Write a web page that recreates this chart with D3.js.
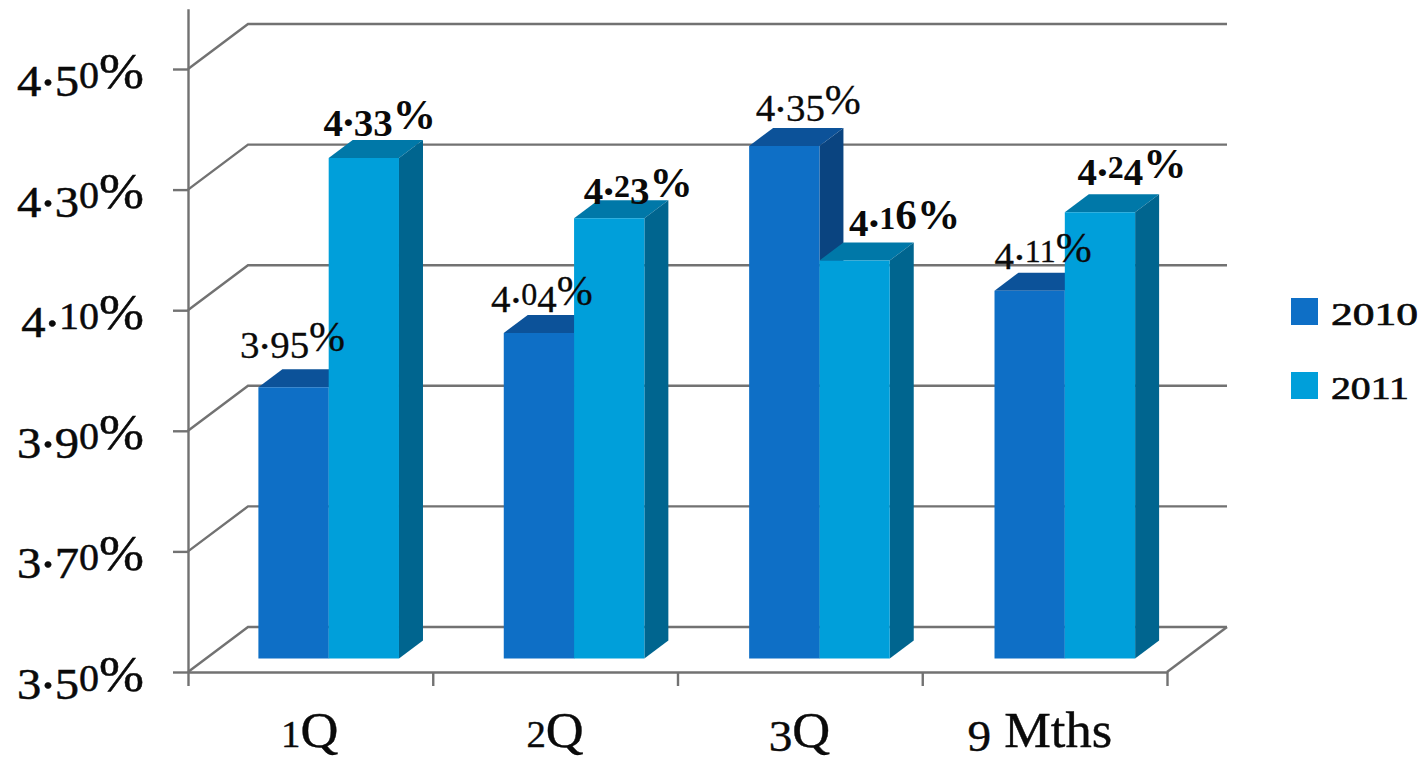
<!DOCTYPE html>
<html>
<head>
<meta charset="utf-8">
<title>Quarterly rates 2010 vs 2011</title>
<script src="https://cdnjs.cloudflare.com/ajax/libs/d3/7.8.5/d3.min.js"></script>
<style>
  html, body { margin: 0; padding: 0; background: #fff; }
  svg { display: block; }
  text { font-family: "Liberation Serif", serif; fill: #0a0a0a; }
</style>
</head>
<body>
<svg id="chart" width="1424" height="761"></svg>
<script>
// Chart data
const categories = ["1Q", "2Q", "3Q", "9 Mths"];
const seriesNames = ["2010", "2011"];
const values2010 = [3.95, 4.04, 4.35, 4.11];
const values2011 = [4.33, 4.23, 4.16, 4.24];
const yTicks = [3.5, 3.7, 3.9, 4.1, 4.3, 4.5];

// Hand placement of the value labels, relative to each bar's front top centre
const labelNudge2010 = [[-1, -36.5], [3, -28], [24, -32], [13.5, -29]];
const labelNudge2011 = [[16, -29.5], [29, -21], [50, -31.5], [32, -34]];
// Horizontal adjustment of the category labels
const categoryNudge = [-1, -1, -2, -7];

const palette = {
  "2010": { front: "#0e6fc6", top: "#0c5299", side: "#0a4480" },
  "2011": { front: "#009fda", top: "#0078a8", side: "#00658f" }
};
const gridColor = "#727272";

// Oblique projection: depth 0 is the front plane, depth 1 the back wall
const wallDx = 60, wallDy = -45;
const project = (x, y, d) => [x + wallDx * d, y + wallDy * d];
const barDepth = [0.3, 0.7];

const svg = d3.select("#chart");
const y = d3.scaleLinear().domain([3.5, 4.6]).range([672, 8.7]);
const xBand = d3.scaleBand().domain(categories).range([188, 1169.5])
  .paddingInner(0.427).paddingOuter(0.2135);
const xSeries = d3.scaleBand().domain(seriesNames).range([0, xBand.bandwidth()]);
const xEdge = d3.scaleLinear().domain([0, categories.length]).range([188, 1167]);
const color = name => palette[name];
const pts = arr => arr.map(p => p.join(",")).join(" ");

// Writes a string with old-style figures: low digits sit at x-height,
// 3 4 5 7 9 hang below the baseline, and the point rides slightly high.
// The whole run is then widened by `stretch`, since the face is a narrow one.
function oldStyle(sel, str, opts = {}) {
  const { hang = 0.17, stretch = 1.05 } = opts;
  const fs = parseFloat(sel.attr("font-size"));
  sel.text(null);
  let shift = 0;
  for (const ch of str) {
    let size = 1, drop = 0;
    if ("012".includes(ch)) { size = 0.74; }
    else if ("34579".includes(ch)) { size = 0.9; drop = hang; }
    else if (ch === ".") { drop = -0.05; }
    sel.append("tspan")
      .attr("font-size", fs * size)
      .attr("dy", (drop - shift) * fs)
      .text(ch);
    shift = drop;
  }
  const w = sel.node().getComputedTextLength();
  sel.attr("textLength", w * stretch).attr("lengthAdjust", "spacingAndGlyphs");
}

// Side wall and back wall gridlines
const grid = svg.append("g").attr("stroke", gridColor).attr("stroke-width", 2.4).attr("fill", "none");
yTicks.forEach(t => {
  const a = [xEdge(0), y(t)];
  const b = project(xEdge(0), y(t), 1);
  const c = project(xEdge(categories.length), y(t), 1);
  grid.append("polyline").attr("points", pts([a, b, c]));
});
// Right edge of the floor
grid.append("line")
  .attr("x1", xEdge(categories.length)).attr("y1", y(3.5))
  .attr("x2", project(xEdge(categories.length), y(3.5), 1)[0])
  .attr("y2", project(xEdge(categories.length), y(3.5), 1)[1]);

// Value axis
const yAxis = svg.append("g").attr("transform", `translate(${xEdge(0)},0)`)
  .call(d3.axisLeft(y).tickValues(yTicks).tickSize(15).tickSizeOuter(0)
    .tickFormat(d => d3.format(".2f")(d) + "%"));
yAxis.selectAll("path, line").attr("stroke", gridColor).attr("stroke-width", 2.4);
yAxis.selectAll("text")
  .attr("font-size", 50).attr("x", -44).attr("y", 18).attr("dy", null)
  .attr("text-anchor", "end")
  .attr("stroke", "#0a0a0a").attr("stroke-width", 0.5)
  .each(function (d) { oldStyle(d3.select(this), d3.format(".2f")(d) + "%", { stretch: 1.08 }); });

// Category axis: ticks on the band boundaries, labels centred in each band
const xTickAxis = svg.append("g").attr("transform", `translate(0,${y(3.5)})`)
  .call(d3.axisBottom(xEdge).tickValues(d3.range(categories.length + 1))
    .tickSize(14).tickSizeOuter(0).tickFormat(""));
xTickAxis.selectAll("path, line").attr("stroke", gridColor).attr("stroke-width", 2.4);

const xLabelAxis = svg.append("g").attr("transform", `translate(0,${y(3.5)})`)
  .call(d3.axisBottom(xBand).tickSize(0));
xLabelAxis.select("path").remove();
xLabelAxis.selectAll("text")
  .attr("font-size", 50).attr("y", 75).attr("dy", null)
  .attr("x", (d, i) => categoryNudge[i])
  .attr("stroke", "#0a0a0a").attr("stroke-width", 0.4)
  .each(function (d) { oldStyle(d3.select(this), d, { hang: 0.07 }); });

// Bars: top and side faces first, the front face over them
const bars = svg.append("g");
categories.forEach((cat, i) => {
  seriesNames.forEach((name, s) => {
    const v = (s === 0 ? values2010 : values2011)[i];
    const x0 = xBand(cat) + xSeries(name);
    const x1 = x0 + xSeries.bandwidth();
    const [dA, dB] = barDepth;
    const c = color(name);
    const g = bars.append("g");
    g.append("polygon").attr("fill", c.top).attr("points", pts([
      project(x0, y(v), dA), project(x1, y(v), dA), project(x1, y(v), dB), project(x0, y(v), dB)
    ]));
    g.append("polygon").attr("fill", c.side).attr("points", pts([
      project(x1, y(v), dA), project(x1, y(v), dB), project(x1, y(3.5), dB), project(x1, y(3.5), dA)
    ]));
    g.append("polygon").attr("fill", c.front).attr("points", pts([
      project(x0, y(v), dA), project(x1, y(v), dA), project(x1, y(3.5), dA), project(x0, y(3.5), dA)
    ]));
  });
});

// Value labels: 2011 set in bold
const labels = svg.append("g").attr("text-anchor", "middle");
categories.forEach((cat, i) => {
  seriesNames.forEach((name, s) => {
    const v = (s === 0 ? values2010 : values2011)[i];
    const nudge = (s === 0 ? labelNudge2010 : labelNudge2011)[i];
    const front = project(xBand(cat) + xSeries(name) + xSeries.bandwidth() / 2, y(v), barDepth[0]);
    labels.append("text")
      .attr("x", front[0] + nudge[0])
      .attr("y", front[1] + nudge[1])
      .attr("font-size", 42)
      .attr("font-weight", s === 1 ? 700 : 400)
      .attr("stroke", s === 1 ? null : "#0a0a0a")
      .attr("stroke-width", s === 1 ? null : 0.3)
      .call(oldStyle, d3.format(".2f")(v) + "%", { stretch: 1.03 });
  });
});

// Legend
const legend = svg.append("g");
const legendY = d3.scalePoint().domain(seriesNames).range([311.5, 385.5]);
seriesNames.forEach(name => {
  legend.append("rect")
    .attr("x", 1291).attr("y", legendY(name) - 13.5)
    .attr("width", 27).attr("height", 27)
    .attr("fill", color(name).front);
  const label = legend.append("text")
    .attr("x", 1331).attr("y", legendY(name) + 13.5)
    .attr("font-size", 44)
    .attr("stroke", "#0a0a0a").attr("stroke-width", 0.7);
  label.call(oldStyle, name);
  label.attr("textLength", name === "2010" ? 87 : 78);
});
</script>
</body>
</html>
